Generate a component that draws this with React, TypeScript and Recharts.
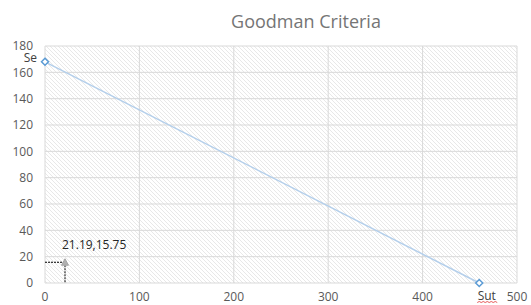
import { ScatterChart, Scatter, XAxis, YAxis, CartesianGrid, ReferenceLine } from 'recharts';

const chartTitle = 'Goodman Criteria';
// Goodman line: Se on the y axis, Sut on the x axis
const lineX = [0, 460];
const lineY = [168, 0];
const lineLabels = ['Se', 'Sut'];
// working point
const pointX = [21.19];
const pointY = [15.75];
const xTicks = [0, 100, 200, 300, 400, 500];
const yTicks = [0, 20, 40, 60, 80, 100, 120, 140, 160, 180];

const lineData = lineX.map((x, i) => ({ x, y: lineY[i], label: lineLabels[i] }));
const pointData = pointX.map((x, i) => ({ x, y: pointY[i], label: `${x},${pointY[i]}` }));

const FONT = '"Open Sans", sans-serif';

function Diamond(props: any) {
  const { cx, cy, payload } = props;
  const r = 3.5;
  const isSe = payload.label === 'Se';
  return (
    <g>
      <path
        d={`M${cx},${cy - r}L${cx + r},${cy}L${cx},${cy + r}L${cx - r},${cy}Z`}
        fill="#ffffff"
        stroke="#5b9bd5"
        strokeWidth={1.5}
      />
      {isSe ? (
        <text x={cx - 8} y={cy - 4.5} dy="0.35em" textAnchor="end" fontSize={12} fill="#404040" fontFamily={FONT}>
          {payload.label}
        </text>
      ) : (
        <g>
          <text x={cx + 7.5} y={cy + 13} dy="0.35em" textAnchor="middle" fontSize={12} fill="#404040" fontFamily={FONT}>
            {payload.label}
          </text>
          <path
            d={`M${cx - 2},${cy + 19.5} l2,-1 l2,1 l2,-1 l2,1 l2,-1 l2,1 l2,-1 l2,1 l2,-1 l2,1`}
            fill="none"
            stroke="#e03030"
            strokeWidth={0.8}
          />
        </g>
      )}
    </g>
  );
}

function Triangle(props: any) {
  const { cx, cy, payload } = props;
  return (
    <g>
      <path
        d={`M${cx},${cy - 3.5}L${cx + 3.5},${cy + 3}L${cx - 3.5},${cy + 3}Z`}
        fill="#b0b0b0"
        stroke="#a5a5a5"
        strokeWidth={1}
      />
      <text x={cx - 3} y={cy - 17} dy="0.35em" textAnchor="start" fontSize={12} fill="#262626" fontFamily={FONT}>
        {payload.label}
      </text>
    </g>
  );
}

export default function App() {
  return (
    <div style={{ position: 'absolute', top: 0, left: 0, width: 531, height: 305, background: '#fff' }}>
      <svg width={0} height={0} style={{ position: 'absolute' }}>
        <defs>
          <pattern id="hatch" patternUnits="userSpaceOnUse" width={4} height={4}>
            <path d="M-1,-1 L5,5 M-1,3 L1,5 M3,-1 L5,1" stroke="#e8e8e8" strokeWidth={1} />
          </pattern>
        </defs>
      </svg>
      <div
        style={{
          position: 'absolute',
          top: 8,
          left: 0,
          width: 612,
          textAlign: 'center',
          fontFamily: FONT,
          fontSize: 18,
          color: '#757575',
          lineHeight: '26px',
        }}
      >
        {chartTitle}
      </div>
      <ScatterChart width={531} height={305} margin={{ top: 46, right: 14, bottom: 0, left: 0 }}>
        <CartesianGrid stroke="#d9d9d9" fill="url(#hatch)" />
        <XAxis
          type="number"
          dataKey="x"
          domain={[0, 500]}
          ticks={xTicks}
          height={22}
          tickSize={0}
          tickMargin={9}
          axisLine={false}
          tickLine={false}
          tick={{ fill: '#595959', fontSize: 12, fontFamily: FONT }}
        />
        <YAxis
          type="number"
          dataKey="y"
          domain={[0, 180]}
          ticks={yTicks}
          width={45}
          tickSize={0}
          tickMargin={12}
          axisLine={false}
          tickLine={false}
          tick={{ fill: '#595959', fontSize: 12, fontFamily: FONT }}
        />
        <ReferenceLine
          segment={[{ x: 0, y: pointY[0] }, { x: pointX[0], y: pointY[0] }]}
          stroke="#000000"
          strokeDasharray="2 1"
        />
        <ReferenceLine
          segment={[{ x: pointX[0], y: pointY[0] }, { x: pointX[0], y: 0 }]}
          stroke="#000000"
          strokeDasharray="2 1"
        />
        <Scatter
          data={lineData}
          line={{ stroke: '#b4cfeb', strokeWidth: 1.5 }}
          lineType="joint"
          shape={Diamond}
          isAnimationActive={false}
        />
        <Scatter data={pointData} shape={Triangle} isAnimationActive={false} />
      </ScatterChart>
    </div>
  );
}
